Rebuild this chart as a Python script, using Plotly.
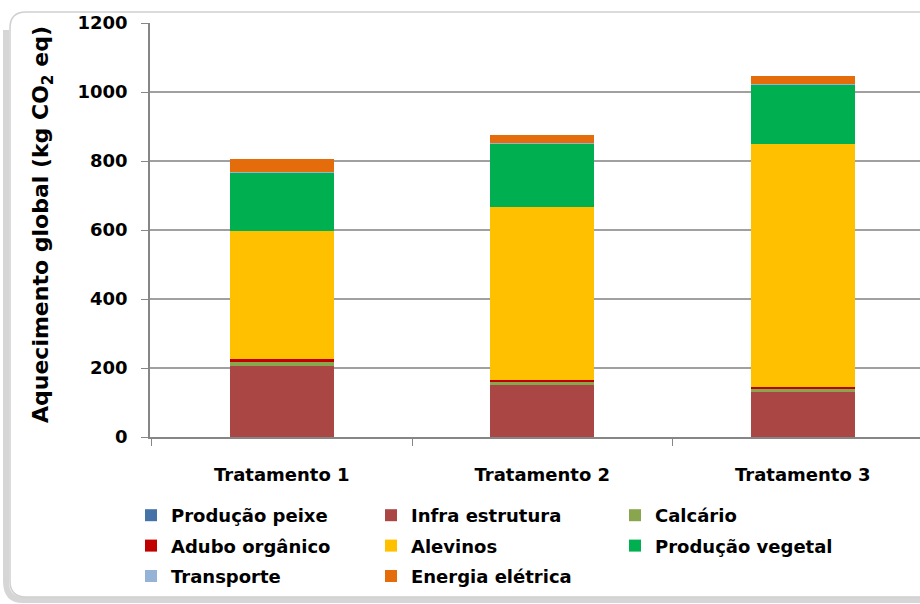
import plotly.graph_objects as go

categories = ["Tratamento 1", "Tratamento 2", "Tratamento 3"]
series_names = ["Produção peixe", "Infra estrutura", "Calcário", "Adubo orgânico",
                "Alevinos", "Produção vegetal", "Transporte", "Energia elétrica"]
producao_peixe = [0.5, 0.5, 0.5]
infra_estrutura = [206, 149, 131]
calcario = [12, 9, 7]
adubo_organico = [7, 6, 6]
alevinos = [372, 503, 705]
producao_vegetal = [170, 183, 173]
transporte = [2, 2, 2]
energia_eletrica = [36, 23, 22]
y_ticks = [0, 200, 400, 600, 800, 1000, 1200]

values = [producao_peixe, infra_estrutura, calcario, adubo_organico,
          alevinos, producao_vegetal, transporte, energia_eletrica]
colors = ["#4573A7", "#AA4644", "#89A54E", "#C00000",
          "#FFC000", "#00B050", "#95B3D7", "#E46C0A"]
legend_ids = ["legend", "legend2", "legend3"]

W, H = 920, 604
L, R, T, B = 150, 920, 23, 437
FONT = "DejaVu Sans"

def px_x(p):
    return (p - L) / (R - L)

def px_y(p):
    return (B - p) / (B - T)

fig = go.Figure()
for i, (name, vals, col) in enumerate(zip(series_names, values, colors)):
    fig.add_trace(go.Bar(
        x=categories, y=vals, name=name, marker=dict(color=col, line=dict(width=0)),
        legend=legend_ids[i % 3], legendgroup=name,
    ))

legfont = dict(family=FONT, size=18, color="black", weight=700)
leg_common = dict(orientation="v", yanchor="top", y=px_y(497), xanchor="left",
                  font=legfont, tracegroupgap=4, bgcolor="rgba(0,0,0,0)",
                  traceorder="grouped", itemwidth=30)

# chart border (rounded, with soft shadow)
l, t, b, r, rad = 10, 12, 597, 940, 16
path = (f"M {px_x(r)},{px_y(t)} L {px_x(l+rad)},{px_y(t)} "
        f"Q {px_x(l)},{px_y(t)} {px_x(l)},{px_y(t+rad)} "
        f"L {px_x(l)},{px_y(b-rad)} Q {px_x(l)},{px_y(b)} {px_x(l+rad)},{px_y(b)} "
        f"L {px_x(r)},{px_y(b)}")
shadow_path = (f"M {px_x(r)},{px_y(b+3)} L {px_x(l+rad-3)},{px_y(b+3)} "
               f"Q {px_x(l-4)},{px_y(b+3)} {px_x(l-4)},{px_y(b-rad)} "
               f"L {px_x(l-4)},{px_y(t+rad+2)}")

fig.update_layout(
    width=W, height=H, barmode="stack", bargap=0.6,
    margin=dict(l=L, r=W - R, t=T, b=H - B, autoexpand=False),
    paper_bgcolor="white", plot_bgcolor="white",
    legend=dict(x=px_x(131), **leg_common),
    legend2=dict(x=px_x(371), **leg_common),
    legend3=dict(x=px_x(615), **leg_common),
    shapes=[
        dict(type="path", path=shadow_path, xref="paper", yref="paper",
             line=dict(color="rgba(120,120,120,0.3)", width=6)),
        dict(type="path", path=path, xref="paper", yref="paper",
             line=dict(color="#d0d0d0", width=1.5)),
    ],
    annotations=[dict(
        text="Aquecimento global (kg CO<sub>2</sub> eq)", textangle=-90,
        x=px_x(43), y=px_y(225), xref="paper", yref="paper",
        xanchor="center", yanchor="middle",
        showarrow=False, font=dict(family=FONT, size=22, color="black", weight=700),
    )],
)
x0 = -0.506
fig.update_xaxes(
    range=[x0, x0 + (R - L) / 260.5], showline=True, linecolor="#868686", linewidth=2,
    ticks="outside", tickson="boundaries", ticklen=7, tickcolor="#868686", tickwidth=1,
    tickfont=dict(family=FONT, size=18, color="black", weight=700),
    ticklabelstandoff=20, showgrid=False, fixedrange=True,
)
fig.update_yaxes(
    range=[0, 1200], tickvals=y_ticks, showline=True, linecolor="#868686", linewidth=1.5,
    ticks="outside", ticklen=7, tickcolor="#868686",
    tickfont=dict(family=FONT, size=18, color="black", weight=700),
    ticklabelstandoff=10, showgrid=True, gridcolor="#a0a0a0", gridwidth=1.5,
    zeroline=False,
)

fig.write_html("out.html", config={"displayModeBar": False},
               post_script="document.body.style.margin='0';document.body.style.overflow='hidden';")
